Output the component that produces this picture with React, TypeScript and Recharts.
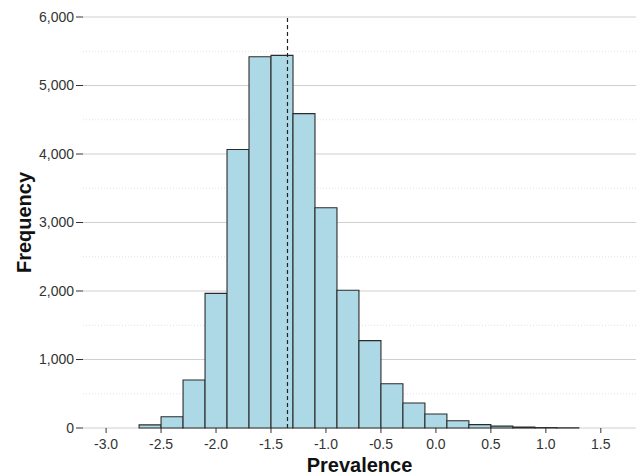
import {
  Bar,
  CartesianGrid,
  ComposedChart,
  ReferenceLine,
  XAxis,
  YAxis,
} from "recharts";

// histogram bins (centres, width 0.2) and their counts
const binCenters = [
  -2.6, -2.4, -2.2, -2.0, -1.8, -1.6, -1.4, -1.2, -1.0, -0.8, -0.6, -0.4,
  -0.2, 0.0, 0.2, 0.4, 0.6, 0.8, 1.0, 1.2,
];
const counts = [
  45, 165, 700, 1965, 4065, 5420, 5440, 4590, 3215, 2010, 1275, 645, 365,
  205, 105, 50, 28, 14, 6, 3,
];
const xTicks = [-3.0, -2.5, -2.0, -1.5, -1.0, -0.5, 0.0, 0.5, 1.0, 1.5];
const yTicks = [0, 1000, 2000, 3000, 4000, 5000, 6000];
const yMinor = [500, 1500, 2500, 3500, 4500, 5500];
const meanValue = -1.35;

const data = binCenters.map((x, i) => ({ x, count: counts[i] }));

const FONT = "'Liberation Sans', Arial, sans-serif";

export default function App() {
  return (
    <div style={{ position: "absolute", left: 0, top: 0, fontFamily: FONT }}>
      <ComposedChart
        width={636}
        height={476}
        data={data}
        margin={{ top: 17, right: 0, bottom: 0, left: 0 }}
        barCategoryGap={0}
        barGap={0}
      >
        <CartesianGrid
          vertical={false}
          horizontalValues={yMinor}
          stroke="#e2e2e2"
          strokeDasharray="1 2"
        />
        <CartesianGrid vertical={false} stroke="#cfcfcf" />
        <XAxis
          type="number"
          dataKey="x"
          domain={[-3.21, 1.82]}
          ticks={xTicks}
          allowDataOverflow
          tickFormatter={(v: number) => v.toFixed(1)}
          axisLine={false}
          tickLine={{ stroke: "#333" }}
          tickSize={5}
          tickMargin={6}
          tick={{ fill: "#333", fontSize: 14, fontFamily: FONT }}
          height={48}
          label={{
            value: "Prevalence",
            position: "insideBottom",
            offset: 4,
            fill: "#111",
            fontSize: 20,
            fontWeight: "bold",
            fontFamily: FONT,
          }}
        />
        <YAxis
          type="number"
          domain={[0, 6000]}
          ticks={yTicks}
          width={83}
          axisLine={false}
          tickLine={{ stroke: "#333" }}
          tickSize={7}
          tickMargin={2}
          tickFormatter={(v: number) => v.toLocaleString("en-US")}
          tick={{ fill: "#333", fontSize: 14, fontFamily: FONT }}
          label={{
            value: "Frequency",
            angle: -90,
            position: "insideLeft",
            offset: 24,
            style: { textAnchor: "middle" },
            fill: "#111",
            fontSize: 20,
            fontWeight: "bold",
            fontFamily: FONT,
          }}
        />
        <Bar
          dataKey="count"
          fill="#ADD8E6"
          stroke="#2b2b2b"
          strokeWidth={1.1}
          isAnimationActive={false}
        />
        <ReferenceLine
          x={meanValue}
          stroke="#222"
          strokeWidth={1.2}
          strokeDasharray="4 3"
        />
      </ComposedChart>
    </div>
  );
}
